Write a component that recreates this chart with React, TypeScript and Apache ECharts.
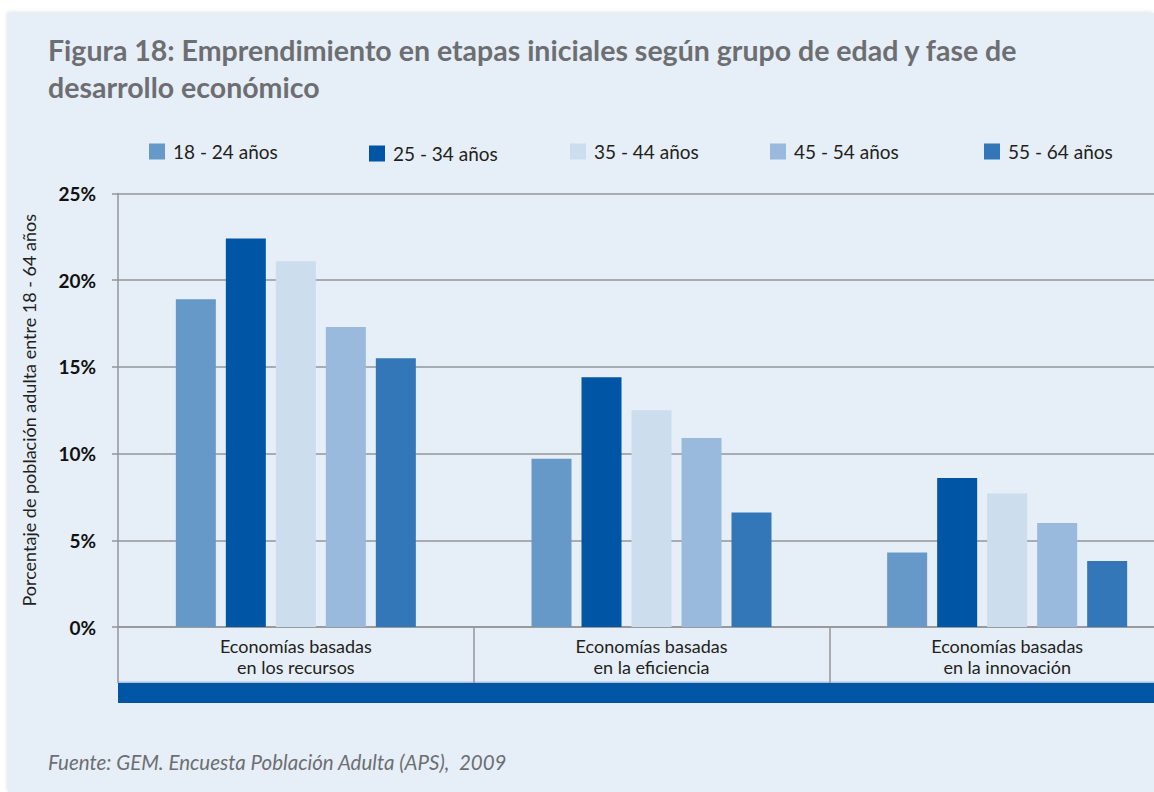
import React, { useEffect, useRef } from "react";
import * as echarts from "echarts";

const categories = [
  "Economías basadas\nen los recursos",
  "Economías basadas\nen la eficiencia",
  "Economías basadas\nen la innovación",
];
const seriesNames = ["18 - 24 años", "25 - 34 años", "35 - 44 años", "45 - 54 años", "55 - 64 años"];
const age18_24 = [18.9, 9.7, 4.3];
const age25_34 = [22.4, 14.4, 8.6];
const age35_44 = [21.1, 12.5, 7.7];
const age45_54 = [17.3, 10.9, 6.0];
const age55_64 = [15.5, 6.6, 3.8];
const seriesValues = [age18_24, age25_34, age35_44, age45_54, age55_64];
const colors = ["#6699c8", "#0055a5", "#ccdded", "#99badd", "#3377b8"];
const legendLefts = [149, 369, 570, 770, 984];
const legendTops = [142, 144, 142, 142, 142];

const FONT = "Lato, 'Open Sans', sans-serif";

export default function App() {
  const ref = useRef<HTMLDivElement>(null);
  useEffect(() => {
    if (!ref.current) return;
    const chart = echarts.init(ref.current, undefined, { renderer: "svg" });
    const gridColor = "#939598";
    chart.setOption({
      animation: false,
      textStyle: { fontFamily: FONT },
      title: [
        {
          text: "Figura 18: Emprendimiento en etapas iniciales según grupo de edad y fase de\ndesarrollo económico",
          left: 48,
          top: 31,
          padding: 0,
          textStyle: {
            fontFamily: FONT,
            fontSize: 28.5,
            fontWeight: "bold",
            color: "#6d6e71",
            lineHeight: 37,
          },
        },
        {
          text: "Fuente: GEM. Encuesta Población Adulta (APS),  2009",
          left: 48,
          top: 752,
          padding: 0,
          textStyle: {
            fontFamily: FONT,
            fontSize: 20.5,
            fontStyle: "italic",
            fontWeight: "normal",
            color: "#6d6e71",
          },
        },
      ],
      legend: seriesNames.map((n, i) => ({
        data: [n],
        left: legendLefts[i],
        top: legendTops[i],
        padding: 0,
        itemWidth: 16,
        itemHeight: 16,
        icon: "rect",
        selectedMode: false,
        textStyle: {
          fontFamily: FONT,
          fontSize: 19,
          color: "#231f20",
          padding: [0, 0, 0, 3],
        },
      })),
      grid: { left: 118, top: 193.5, right: 0, bottom: 165 },
      xAxis: {
        type: "category",
        data: categories,
        axisLine: { show: true, lineStyle: { color: gridColor, width: 1.5 } },
        axisTick: {
          show: true,
          alignWithLabel: false,
          length: 56,
          lineStyle: { color: gridColor, width: 1.5 },
        },
        axisLabel: {
          fontFamily: FONT,
          fontSize: 18,
          lineHeight: 21.6,
          color: "#231f20",
          margin: 8,
        },
      },
      yAxis: {
        type: "value",
        min: 0,
        max: 25,
        interval: 5,
        name: "Porcentaje de población adulta entre 18 - 64 años",
        nameLocation: "middle",
        nameGap: 80,
        nameRotate: 90,
        nameTextStyle: { fontFamily: FONT, fontSize: 18, color: "#231f20" },
        axisLine: { show: true, lineStyle: { color: gridColor, width: 1.5 } },
        axisTick: { show: true, length: 6, lineStyle: { color: gridColor, width: 1.5 } },
        splitLine: { show: true, lineStyle: { color: gridColor, width: 1.5 } },
        axisLabel: {
          formatter: "{value}%",
          fontFamily: FONT,
          fontSize: 19,
          fontWeight: "bold",
          color: "#111111",
          margin: 22,
        },
      },
      graphic: [
        { type: "rect", shape: { x: 118, y: 681.5, width: 1070, height: 1.5 }, style: { fill: "#a9c2dd" }, silent: true },
        { type: "rect", shape: { x: 118, y: 683, width: 1070, height: 20 }, style: { fill: "#0055a5" }, silent: true },
      ],
      series: seriesNames.map((n, i) => ({
        name: n,
        type: "bar",
        data: seriesValues[i],
        barWidth: 40,
        barGap: "25%",
        itemStyle: { color: colors[i] },
      })),
    });
    return () => chart.dispose();
  }, []);
  return (
    <div style={{ position: "absolute", left: 0, top: 0, width: 1154, height: 792, background: "#ffffff", overflow: "hidden" }}>
      <div
        style={{
          position: "absolute",
          left: 8,
          top: 13,
          width: 1146,
          height: 779,
          background: "#e6eef7",
          boxShadow: "-1px -1px 4px rgba(0,0,0,0.12)",
        }}
      />
      <div ref={ref} style={{ position: "absolute", left: 0, top: 0, width: 1185, height: 792 }} />
    </div>
  );
}
